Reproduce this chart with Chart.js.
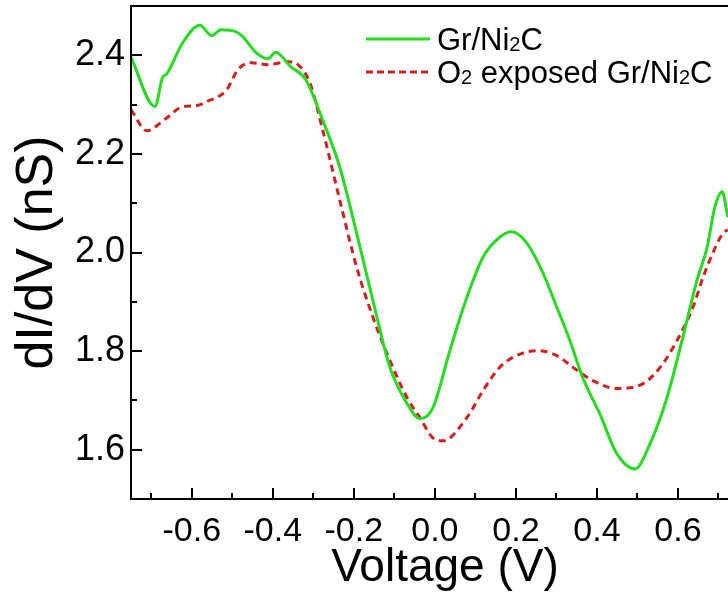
<!DOCTYPE html>
<html>
<head>
<meta charset="utf-8">
<script src="https://cdn.jsdelivr.net/npm/chart.js@4.4.1/dist/chart.umd.min.js"></script>
<style>
    html, body { margin: 0; padding: 0; background: #fff; overflow: hidden; }
    #dIdV { display: block; }
</style>
</head>
<body>
<canvas id="dIdV" width="780" height="599"></canvas>
<script>
// Данные кривых (напряжение в В, dI/dV в нС)
const voltageGr = [-0.75, -0.691, -0.672, -0.662, -0.622, -0.58, -0.551, -0.528, -0.491, -0.474, -0.442, -0.412, -0.393, -0.356, -0.319, -0.277, -0.235, -0.193, -0.153, -0.111, -0.069, -0.037, -0.005, 0.037, 0.079, 0.119, 0.16, 0.19, 0.227, 0.267, 0.301, 0.333, 0.365, 0.407, 0.449, 0.494, 0.531, 0.573, 0.612, 0.647, 0.672, 0.691, 0.709, 0.723];
const conductanceGr = [2.396, 2.296, 2.355, 2.362, 2.426, 2.461, 2.44, 2.452, 2.448, 2.438, 2.406, 2.393, 2.406, 2.377, 2.351, 2.269, 2.174, 2.039, 1.903, 1.767, 1.694, 1.663, 1.685, 1.801, 1.909, 1.991, 2.031, 2.042, 2.019, 1.958, 1.889, 1.822, 1.746, 1.673, 1.592, 1.561, 1.612, 1.706, 1.828, 1.944, 2.011, 2.092, 2.123, 2.072];

const voltageO2 = [-0.75, -0.711, -0.662, -0.622, -0.588, -0.563, -0.514, -0.486, -0.454, -0.412, -0.363, -0.338, -0.309, -0.277, -0.235, -0.193, -0.153, -0.111, -0.069, -0.037, -0.005, 0.02, 0.079, 0.119, 0.16, 0.202, 0.252, 0.301, 0.341, 0.39, 0.449, 0.514, 0.556, 0.598, 0.637, 0.662, 0.686, 0.711, 0.723];
const conductanceO2 = [2.29, 2.247, 2.273, 2.296, 2.298, 2.306, 2.33, 2.371, 2.385, 2.381, 2.387, 2.381, 2.345, 2.249, 2.107, 1.97, 1.869, 1.781, 1.706, 1.665, 1.624, 1.618, 1.665, 1.72, 1.767, 1.791, 1.801, 1.791, 1.767, 1.74, 1.724, 1.734, 1.767, 1.822, 1.889, 1.95, 1.999, 2.039, 2.046];

// Метки осей
const xTickValues = [-0.6, -0.4, -0.2, 0.0, 0.2, 0.4, 0.6];
const yTickValues = [1.6, 1.8, 2.0, 2.2, 2.4];

const FONT = "'Liberation Sans', Arial, sans-serif";
const GREEN = '#27DA22';
const RED = '#D3201F';

const toPoints = (xs, ys) => xs.map((x, i) => ({ x: x, y: ys[i] }));

// Рамка, внутренние засечки и легенда с подстрочными индексами
const framePlugin = {
    id: 'frame',
    afterDatasetsDraw(chart) {
        const { ctx, chartArea, scales } = chart;
        ctx.save();
        ctx.strokeStyle = '#000';
        ctx.lineWidth = 2;
        ctx.strokeRect(chartArea.left, chartArea.top, chartArea.right - chartArea.left, chartArea.bottom - chartArea.top);

        ctx.beginPath();
        // засечки по оси X (основные и промежуточные)
        for (let k = -7; k <= 7; k++) {
            const px = Math.round(scales.x.getPixelForValue(k / 10));
            const len = k % 2 === 0 ? 11 : 6;
            ctx.moveTo(px, chartArea.bottom);
            ctx.lineTo(px, chartArea.bottom - len);
        }
        // засечки по оси Y
        for (let k = 15; k <= 25; k++) {
            const py = Math.round(scales.y.getPixelForValue(k / 10));
            const len = k % 2 === 0 ? 11 : 6;
            ctx.moveTo(chartArea.left, py);
            ctx.lineTo(chartArea.left + len, py);
        }
        ctx.stroke();

        // легенда
        const items = [
            { color: GREEN, dash: [], parts: [['Gr/Ni', 0], ['2', 1], ['C', 0]] },
            { color: RED, dash: [7, 4], parts: [['O', 0], ['2', 1], [' exposed Gr/Ni', 0], ['2', 1], ['C', 0]] }
        ];
        const x0 = 366, x1 = 430, textX = 437;
        const rows = [39, 72];
        items.forEach((item, i) => {
            const y = rows[i];
            ctx.strokeStyle = item.color;
            ctx.lineWidth = 3;
            ctx.setLineDash(item.dash);
            ctx.beginPath();
            ctx.moveTo(x0, y);
            ctx.lineTo(x1, y);
            ctx.stroke();
            ctx.setLineDash([]);
            ctx.fillStyle = '#000';
            ctx.textBaseline = 'alphabetic';
            let tx = textX;
            item.parts.forEach(([txt, sub]) => {
                ctx.font = (sub ? '20px ' : '31px ') + FONT;
                ctx.fillText(txt, tx, y + 11 + (sub ? 1 : 0));
                tx += ctx.measureText(txt).width;
            });
        });
        ctx.restore();
    }
};

const chart = new Chart(document.getElementById('dIdV').getContext('2d'), {
    type: 'line',
    data: {
        datasets: [
            {
                label: 'Gr/Ni2C',
                data: toPoints(voltageGr, conductanceGr),
                borderColor: GREEN,
                borderWidth: 3,
                pointRadius: 0,
                cubicInterpolationMode: 'monotone',
                fill: false
            },
            {
                label: 'O2 exposed Gr/Ni2C',
                data: toPoints(voltageO2, conductanceO2),
                borderColor: RED,
                borderWidth: 3,
                borderDash: [7, 5],
                pointRadius: 0,
                cubicInterpolationMode: 'monotone',
                fill: false
            }
        ]
    },
    options: {
        responsive: false,
        devicePixelRatio: 1,
        animation: false,
        layout: { padding: { left: 0, top: 6, right: 21, bottom: 0 } },
        plugins: {
            legend: { display: false },
            tooltip: { enabled: false }
        },
        scales: {
            x: {
                type: 'linear',
                min: -0.75,
                max: 0.8,
                afterBuildTicks: (scale) => { scale.ticks = xTickValues.map(v => ({ value: v })); },
                afterFit: (scale) => {
                    scale.height = 100;
                    scale.paddingLeft = 0;
                    scale.paddingRight = 0;
                },
                grid: { display: false, drawTicks: false },
                border: { display: false },
                ticks: {
                    padding: 12,
                    color: '#000',
                    font: { family: FONT, size: 34 },
                    maxRotation: 0,
                    callback: (v) => Number(v).toFixed(1)
                },
                title: {
                    display: true,
                    text: 'Voltage (V)',
                    color: '#000',
                    font: { family: FONT, size: 46 },
                    padding: { top: 0, bottom: 3 }
                }
            },
            y: {
                type: 'linear',
                min: 1.5,
                max: 2.5,
                afterBuildTicks: (scale) => { scale.ticks = yTickValues.map(v => ({ value: v })); },
                afterFit: (scale) => {
                    scale.width = 131;
                    scale.paddingTop = 0;
                    scale.paddingBottom = 0;
                },
                grid: { display: false, drawTicks: false },
                border: { display: false },
                ticks: {
                    padding: 6,
                    color: '#000',
                    font: { family: FONT, size: 36 },
                    callback: (v) => Number(v).toFixed(1)
                },
                title: {
                    display: true,
                    text: 'dI/dV (nS)',
                    color: '#000',
                    font: { family: FONT, size: 52 },
                    padding: { top: 6, bottom: 0 }
                }
            }
        }
    },
    plugins: [framePlugin]
});
</script>
</body>
</html>
